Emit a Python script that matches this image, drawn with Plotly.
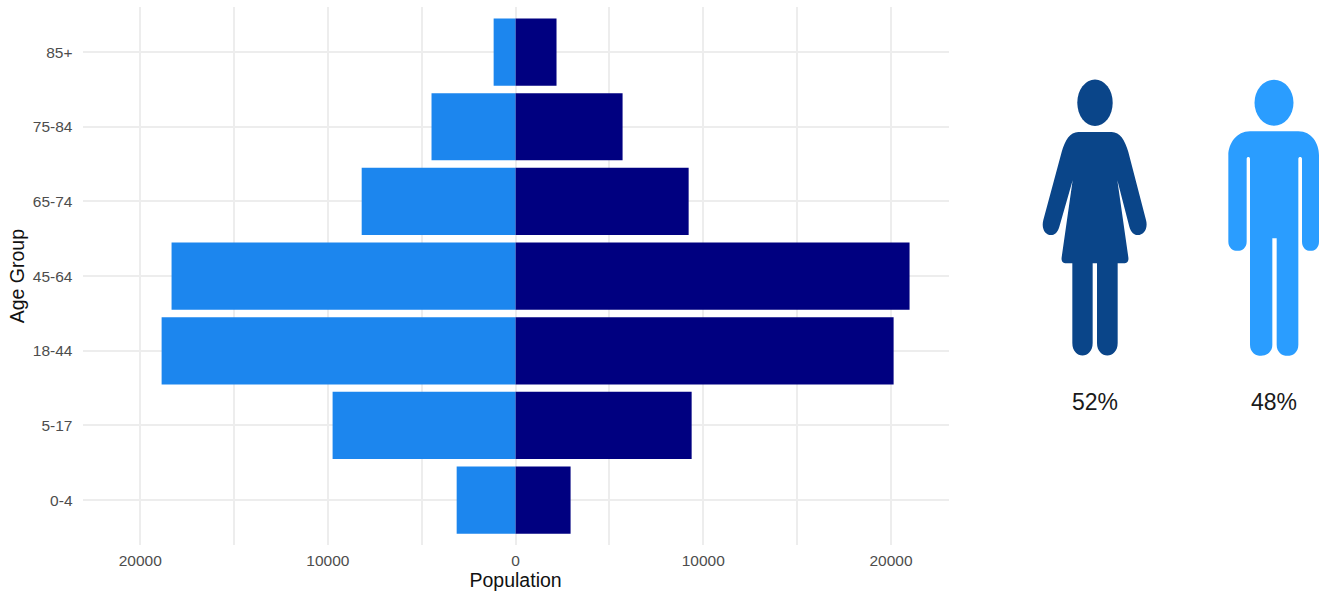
import plotly.graph_objects as go

age_groups = ["0-4", "5-17", "18-44", "45-64", "65-74", "75-84", "85+"]
male = [-3140, -9750, -18860, -18330, -8200, -4480, -1170]
female = [2930, 9380, 20140, 20990, 9220, 5700, 2180]
major_ticks = [-20000, -10000, 0, 10000, 20000]
major_labels = ["20000", "10000", "0", "10000", "20000"]
minor_ticks = [-15000, -5000, 5000, 15000]
share_labels = ["52%", "48%"]

W, H = 1323, 591
PAPER_H = 589  # usable drawing height of the page, in pixels
PAPER_TOP = 0.8  # offset of the drawing area from the top of the page
MALE_BAR, FEMALE_BAR = "#1c86ee", "#000080"
FEMALE_ICON, MALE_ICON = "#0a4589", "#2a9dff"
GRID = "#ededed"
SANS = "Liberation Sans, Arial, sans-serif"

fig = go.Figure()
fig.add_bar(y=age_groups, x=male, name="Male", orientation="h", width=0.9,
            marker=dict(color=MALE_BAR, line_width=0))
fig.add_bar(y=age_groups, x=female, name="Female", orientation="h", width=0.9,
            marker=dict(color=FEMALE_BAR, line_width=0))


def px(x):
    return x / W


def py(y):
    return 1 - (y + PAPER_TOP) / PAPER_H


def icon(points):
    """Build an SVG path from icon-space coordinates (three units per pixel)."""
    out = []
    for cmd, *vals in points:
        coords = []
        for i in range(0, len(vals), 2):
            coords.append(f"{px(1020 + vals[i] / 3):.5f},{py(60 + vals[i + 1] / 3):.5f}")
        out.append(cmd + " ".join(coords))
    return " ".join(out) + " Z"


woman_body = [
    ("M", 175, 215), ("L", 275, 215), ("C", 300, 215, 315, 240, 325, 275),
    ("L", 378, 480), ("C", 390, 525, 340, 545, 328, 500),
    ("L", 292, 360), ("L", 325, 592), ("C", 327, 605, 320, 610, 312, 610),
    ("L", 293, 610), ("L", 293, 850), ("C", 293, 900, 231, 900, 231, 850),
    ("L", 231, 610), ("L", 218, 610), ("L", 218, 850),
    ("C", 218, 900, 157, 900, 157, 850), ("L", 157, 610), ("L", 138, 610),
    ("C", 130, 610, 123, 605, 125, 592), ("L", 158, 360), ("L", 118, 500),
    ("C", 106, 545, 58, 525, 70, 480), ("L", 125, 275),
    ("C", 135, 240, 150, 215, 175, 215),
]
man_body = [
    ("M", 690, 213), ("L", 835, 213), ("C", 875, 213, 897, 250, 897, 285),
    ("L", 897, 545), ("C", 897, 582, 846, 582, 846, 545), ("L", 846, 296),
    ("C", 846, 288, 835, 288, 835, 296), ("L", 835, 855),
    ("C", 835, 900, 770, 900, 770, 855), ("L", 770, 535), ("L", 757, 535),
    ("L", 757, 855), ("C", 757, 900, 690, 900, 690, 855), ("L", 690, 296),
    ("C", 690, 288, 680, 288, 680, 296), ("L", 680, 545),
    ("C", 680, 582, 625, 582, 625, 545), ("L", 625, 285),
    ("C", 625, 250, 650, 213, 690, 213),
]

shapes = []
for body, colour, head in [
    (woman_body, FEMALE_ICON, (1095.0, 102.3, 17.7, 23.3)),
    (man_body, MALE_ICON, (1274.0, 102.3, 19.5, 23.0)),
]:
    shapes.append(dict(type="path", path=icon(body), xref="paper", yref="paper",
                       fillcolor=colour, line_width=0, layer="above"))
    cx, cy, rx, ry = head
    shapes.append(dict(type="circle", xref="paper", yref="paper",
                       x0=px(cx - rx), x1=px(cx + rx), y0=py(cy + ry), y1=py(cy - ry),
                       fillcolor=colour, line_width=0))

annotations = [
    dict(x=px(x), y=py(403), xref="paper", yref="paper", text=t, showarrow=False,
         xanchor="center", yanchor="middle",
         font=dict(family=SANS, size=23, color="#1a1a1a"))
    for x, t in zip((1095, 1274), share_labels)
]

fig.update_layout(
    width=W, height=H, margin=dict(l=0, r=0, t=0, b=0), autosize=False,
    paper_bgcolor="white", plot_bgcolor="white", showlegend=False,
    barmode="overlay", shapes=shapes, annotations=annotations,
    font=dict(family=SANS),
    xaxis=dict(
        domain=[82.6 / W, 948.6 / W], range=[-23070, 23070], anchor="y",
        tickmode="array", tickvals=major_ticks, ticktext=major_labels,
        tickfont=dict(size=15.5, color="#4d4d4d"), ticks="outside", ticklen=1,
        tickcolor="rgba(0,0,0,0)", showgrid=True, gridcolor=GRID, gridwidth=2,
        zeroline=False, showline=False,
        minor=dict(tickmode="array", tickvals=minor_ticks, showgrid=True,
                   gridcolor=GRID, gridwidth=1.6, ticks=""),
        title=dict(text="Population", standoff=9,
                   font=dict(size=19.5, color="#111111")),
    ),
    yaxis=dict(
        domain=[py(546), py(6.5)], range=[-0.6, 6.6], anchor="x",
        categoryorder="array", categoryarray=age_groups, type="category",
        tickfont=dict(size=15.5, color="#4d4d4d"), ticks="outside", ticklen=6,
        tickcolor="rgba(0,0,0,0)", showgrid=True, gridcolor=GRID, gridwidth=2,
        zeroline=False, showline=False,
        title=dict(text="Age Group", standoff=3,
                   font=dict(size=19.5, color="#111111")),
    ),
)

fig.write_html("out.html", config=dict(displayModeBar=False))
